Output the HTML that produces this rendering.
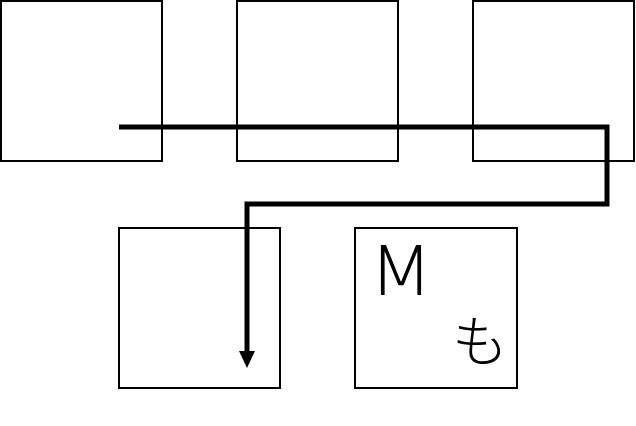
<!DOCTYPE html>
<html><head><meta charset="utf-8"><style>
html,body{margin:0;padding:0;background:#fff;width:636px;height:426px;overflow:hidden}
</style></head><body>
<svg width="636" height="426" viewBox="0 0 636 426" xmlns="http://www.w3.org/2000/svg">
<g fill="none" stroke="#000" stroke-width="2">
<rect x="1" y="1" width="161" height="160"/>
<rect x="237" y="1" width="161" height="160"/>
<rect x="473" y="1" width="161" height="160"/>
<rect x="119" y="228" width="161" height="160"/>
<rect x="355" y="228" width="162" height="160"/>
</g>
<polyline points="119,127 607,127 607,204 247,204 247,352" fill="none" stroke="#000" stroke-width="5"/>
<polygon points="239,351 255,351 247,368" fill="#000"/>
<text x="369" y="295" font-family="'DejaVu Sans',sans-serif" font-size="69" font-weight="200" textLength="64" lengthAdjust="spacingAndGlyphs">M</text>
<text x="452" y="362" font-family="'Liberation Sans','Noto Sans CJK JP',sans-serif" font-size="56" font-weight="300">も</text>
</svg>
</body></html>
